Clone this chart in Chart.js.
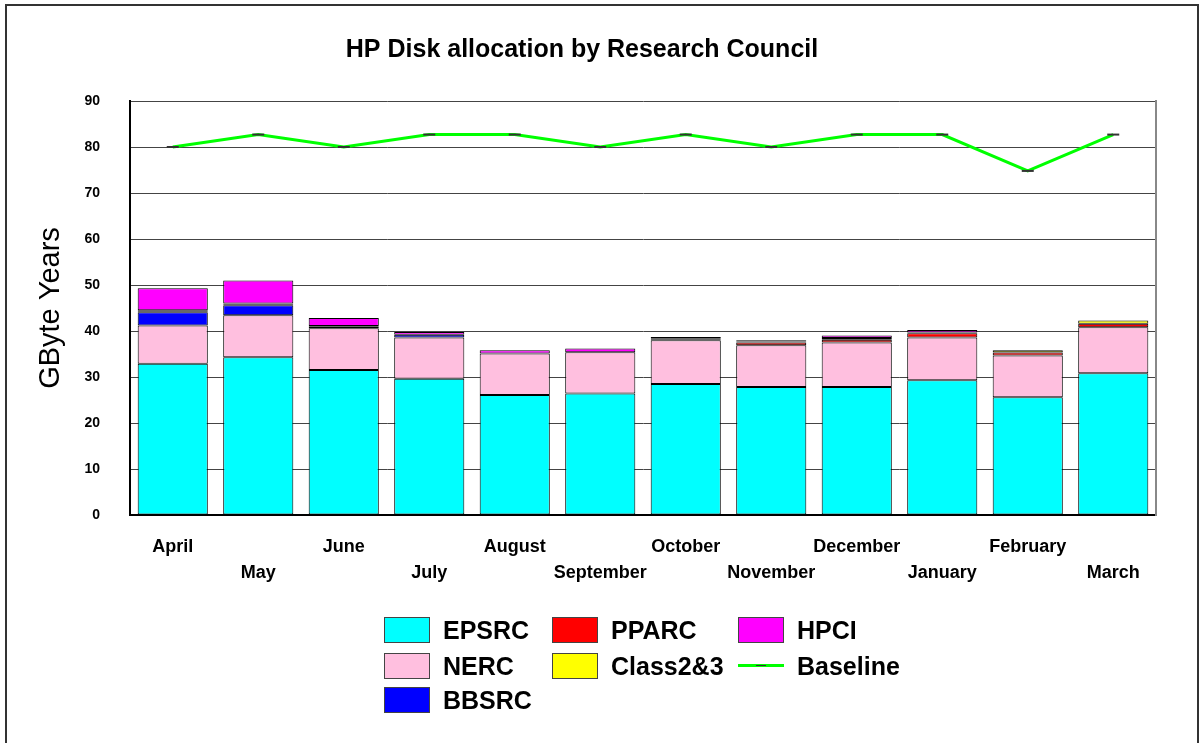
<!DOCTYPE html>
<html>
<head>
    <title>HP Disk allocation by Research Council</title>
    <script src="https://cdn.jsdelivr.net/npm/chart.js"></script>
    <style>
        body {
            margin: 0;
            font-family: "Liberation Sans", Arial, sans-serif;
            background: #fff;
        }
        #wrap {
            position: relative;
            width: 1202px;
            height: 743px;
            overflow: hidden;
        }
        #frame {
            position: absolute;
            left: 5px;
            top: 4px;
            width: 1190px;
            height: 780px;
            border: 2px solid #333;
        }
        canvas {
            position: absolute;
            left: 0;
            top: 0;
        }
        .item {
            position: absolute;
            font-weight: bold;
            font-size: 25px;
            line-height: 26px;
            color: #000;
        }
        .box {
            position: absolute;
            width: 44px;
            height: 24px;
            border: 1px solid #444;
        }
    </style>
</head>
<body>
    <div id="wrap">
        <div id="frame"></div>
        <canvas id="chart" width="1202" height="743"></canvas>
        <div id="legend"></div>
    </div>

    <script>
        const months = ['April', 'May', 'June', 'July', 'August', 'September', 'October', 'November', 'December', 'January', 'February', 'March'];
        const epsrc = [32.9, 34.3, 31.5, 29.6, 26.1, 26.4, 28.5, 27.8, 27.8, 29.3, 25.6, 30.8];
        const nerc = [8.3, 9.1, 9.1, 9.0, 9.0, 9.0, 9.5, 9.1, 9.7, 9.3, 9.1, 10.0];
        const bbsrc = [2.9, 2.2, 0, 0.6, 0, 0, 0, 0, 0, 0, 0, 0];
        const pparc = [0.2, 0.2, 0.3, 0, 0, 0, 0.2, 0.6, 0.6, 0.9, 0.6, 0.8];
        const class23 = [0.2, 0.2, 0.2, 0, 0, 0, 0.2, 0.2, 0.4, 0.2, 0.5, 0.7];
        const hpci = [4.8, 5.0, 1.7, 0.6, 0.7, 0.8, 0.3, 0.3, 0.5, 0.5, 0, 0];
        const baseline = [80, 82.7, 80, 82.7, 82.7, 80, 82.7, 80, 82.7, 82.7, 74.8, 82.7];

        // alternate the month labels onto two rows
        const tickLabels = months.map((m, i) => i % 2 === 0 ? [m, ''] : ['', m]);

        function bar(label, data, color) {
            return {
                type: 'bar',
                label: label,
                data: data,
                backgroundColor: color,
                borderColor: '#000',
                // no outline for empty segments
                borderWidth: ctx => ctx.raw > 0 ? 1 : 0,
                borderSkipped: false,
                barPercentage: 0.82,
                categoryPercentage: 1.0,
                stack: 'councils',
                order: 1
            };
        }

        const datasets = [
            bar('EPSRC', epsrc, '#00ffff'),
            bar('NERC', nerc, '#ffbfdf'),
            bar('BBSRC', bbsrc, '#0000ff'),
            bar('PPARC', pparc, '#ff0000'),
            bar('Class2&3', class23, '#ffff00'),
            bar('HPCI', hpci, '#ff00ff'),
            {
                type: 'line',
                label: 'Baseline',
                data: baseline,
                borderColor: '#00ff00',
                borderWidth: 3,
                tension: 0,
                fill: false,
                pointStyle: 'line',
                pointRadius: 6,
                pointBorderColor: '#333',
                pointBorderWidth: 2,
                stack: 'base',
                order: 0
            }
        ];

        const fam = '"Liberation Sans", Arial';

        new Chart(document.getElementById('chart').getContext('2d'), {
            data: { labels: tickLabels, datasets: datasets },
            options: {
                responsive: false,
                animation: false,
                layout: { padding: { left: 8, top: 6, right: 46, bottom: 128 } },
                plugins: {
                    legend: { display: false },
                    tooltip: { enabled: false },
                    title: {
                        display: true,
                        text: 'HP Disk allocation by Research Council',
                        color: '#000',
                        font: { family: fam, size: 25, weight: 'bold' },
                        padding: { top: 29, bottom: 36 }
                    }
                },
                scales: {
                    x: {
                        stacked: true,
                        grid: { display: false, drawTicks: false },
                        border: { display: true, color: '#000', width: 2 },
                        ticks: {
                            autoSkip: false,
                            maxRotation: 0,
                            padding: 19,
                            color: '#000',
                            font: { family: fam, size: 18, weight: 'bold', lineHeight: 1.45 }
                        },
                        afterFit: s => { s.height = 100; }
                    },
                    y: {
                        stacked: true,
                        min: 0,
                        max: 90,
                        ticks: {
                            stepSize: 10,
                            padding: 30,
                            color: '#000',
                            font: { family: fam, size: 14, weight: 'bold' }
                        },
                        grid: { color: '#444', lineWidth: 1, drawTicks: false },
                        border: { display: true, color: '#000', width: 2 },
                        title: {
                            display: true,
                            text: 'GByte Years',
                            color: '#000',
                            font: { family: fam, size: 29 },
                            padding: { top: 26, bottom: 0 }
                        },
                        afterFit: s => { s.width = 122; }
                    },
                    yRight: {
                        position: 'right',
                        min: 0,
                        max: 90,
                        ticks: { display: false },
                        grid: { display: false, drawTicks: false },
                        border: { display: true, color: '#888', width: 2 },
                        afterFit: s => { s.width = 0; }
                    }
                }
            }
        });

        // legend laid out in columns like the original
        const legend = document.getElementById('legend');
        const cols = [384, 552, 738];
        const rows = [617, 653, 687];
        const colOf = [0, 0, 0, 1, 1, 2, 2];
        const rowOf = [0, 1, 2, 0, 1, 0, 1];
        datasets.forEach((ds, i) => {
            const x = cols[colOf[i]];
            const y = rows[rowOf[i]];
            if (ds.type === 'bar') {
                const b = document.createElement('div');
                b.className = 'box';
                b.style.left = x + 'px';
                b.style.top = y + 'px';
                b.style.background = ds.backgroundColor;
                legend.appendChild(b);
            } else {
                const l = document.createElement('div');
                l.style.cssText = 'position:absolute;left:' + x + 'px;top:' + (y + 11) + 'px;width:46px;height:3px;background:#00ff00;';
                const d = document.createElement('div');
                d.style.cssText = 'position:absolute;left:' + (x + 18) + 'px;top:' + (y + 12) + 'px;width:10px;height:1px;background:#333;';
                legend.appendChild(l);
                legend.appendChild(d);
            }
            const t = document.createElement('div');
            t.className = 'item';
            t.style.left = (x + 59) + 'px';
            t.style.top = y + 'px';
            t.textContent = ds.label;
            legend.appendChild(t);
        });
    </script>
</body>
</html>
